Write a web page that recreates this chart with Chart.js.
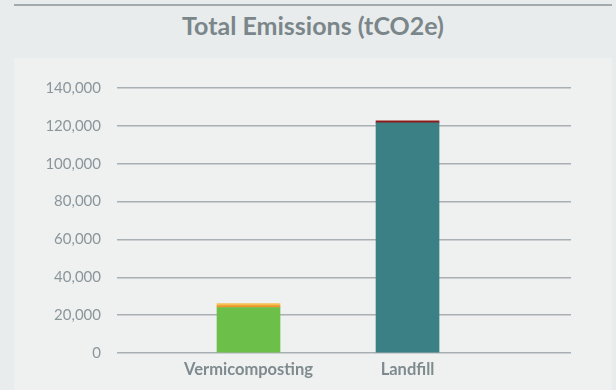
<!DOCTYPE html>
<html>
<head>
<meta charset="utf-8">
<script src="https://cdn.jsdelivr.net/npm/chart.js@4"></script>
<style>
  html, body { margin: 0; padding: 0; }
  body {
    width: 616px; height: 390px; overflow: hidden; position: relative;
    background: #e8ecec; font-family: Lato, sans-serif;
  }
  .rule {
    position: absolute; left: 14px; top: 4px; width: 598px; height: 0;
    border-top: 2px solid #a2aaad;
  }
  h1 {
    position: absolute; left: 14px; top: 13px; width: 598px; margin: 0;
    text-align: center; font: bold 25px/25px Lato, sans-serif; color: #7b868a;
  }
  .panel {
    position: absolute; left: 14px; top: 58px; width: 598px; height: 332px;
    background: #eff1f1;
  }
</style>
</head>
<body>
<div class="rule"></div>
<h1>Total Emissions (tCO2e)</h1>
<div class="panel"><canvas id="emissions-chart" width="598" height="332"></canvas></div>

<script>
const categories = ['Vermicomposting', 'Landfill'];

// stacked components, one value per category (null = not part of that option)
const vermiProcess   = [24050, null];
const vermiTransport = [1050,  null];
const vermiOther     = [1050,  null];
const landfillMethane = [null, 121580];
const landfillOther   = [null, 1050];

const yTicks = [0, 20000, 40000, 60000, 80000, 100000, 120000, 140000];

const FONT = 'Lato';
const TICK = '#8b969a';

function points(values) {
  return values.map((v, i) => ({ x: i, y: v }));
}

let emissionsChart;

function renderEmissions() {
  if (emissionsChart) emissionsChart.destroy();
  emissionsChart = new Chart(document.getElementById('emissions-chart').getContext('2d'), {
    type: 'bar',
    data: {
      datasets: [
        { label: 'Vermicomposting',  data: points(vermiProcess),    backgroundColor: '#6cc04a' },
        { label: 'Transport',        data: points(vermiTransport),  backgroundColor: '#ef942a' },
        { label: 'Other',            data: points(vermiOther),      backgroundColor: '#f5c04f' },
        { label: 'Landfill methane', data: points(landfillMethane), backgroundColor: '#3a8084' },
        { label: 'Landfill other',   data: points(landfillOther),   backgroundColor: '#8e1a1a' },
      ],
    },
    options: {
      locale: 'en-US',
      responsive: false,
      animation: false,
      barThickness: 63,
      layout: { padding: { top: 30, right: 41, left: 0, bottom: 0 } },
      plugins: { legend: { display: false }, tooltip: { enabled: false } },
      scales: {
        x: {
          type: 'linear',
          offset: false,
          stacked: true,
          min: -0.827,
          max: 2.028,
          grid: { display: false },
          border: { display: false },
          afterBuildTicks: axis => { axis.ticks = categories.map((_, i) => ({ value: i })); },
          afterFit: axis => { axis.height = 37; },
          ticks: {
            padding: -1,
            maxRotation: 0,
            autoSkip: false,
            color: '#7f8a8e',
            font: { family: FONT, size: 16.5, weight: 'bold' },
            callback: v => categories[v] ?? '',
          },
        },
        y: {
          stacked: true,
          min: yTicks[0],
          max: yTicks[yTicks.length - 1],
          afterBuildTicks: axis => { axis.ticks = yTicks.map(v => ({ value: v })); },
          afterFit: axis => { axis.width = 103; },
          grid: { color: '#a9b0b3', lineWidth: 1.5, drawTicks: false },
          border: { display: false },
          ticks: {
            padding: 16,
            color: TICK,
            font: { family: FONT, size: 15 },
          },
        },
      },
    },
  });
}

renderEmissions();
</script>
</body>
</html>
